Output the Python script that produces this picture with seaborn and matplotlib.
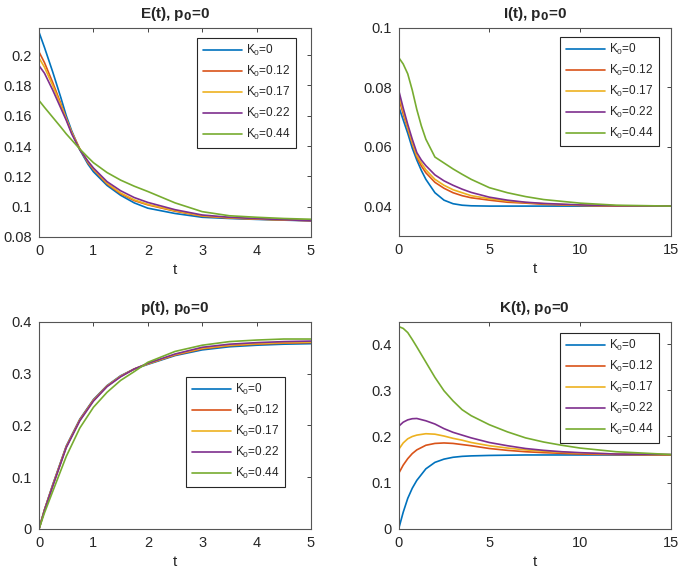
import pandas as pd
import matplotlib.pyplot as plt
import seaborn as sns

# valori
k0_labels = ["K$_0$=0", "K$_0$=0.12", "K$_0$=0.17", "K$_0$=0.22", "K$_0$=0.44"]
colors = ["#0072BD", "#D95319", "#EDB120", "#7E2F8E", "#77AC30"]

t_E = [0, 0.1, 0.25, 0.4, 0.5, 0.6, 0.75, 0.9, 1, 1.25, 1.5, 1.75, 2, 2.5, 3, 3.5, 4, 4.5, 5]
E_vals = [
    [0.215, 0.205, 0.189, 0.172, 0.160, 0.150, 0.1375, 0.128, 0.123, 0.114, 0.1075, 0.1025, 0.099, 0.0955, 0.093, 0.0922, 0.0916, 0.0911, 0.0907],
    [0.202, 0.195, 0.182, 0.168, 0.158, 0.149, 0.138, 0.129, 0.1245, 0.115, 0.1085, 0.104, 0.1012, 0.097, 0.0937, 0.0925, 0.0918, 0.0912, 0.0908],
    [0.198, 0.192, 0.180, 0.167, 0.158, 0.149, 0.138, 0.1295, 0.125, 0.1155, 0.109, 0.1045, 0.1015, 0.0973, 0.094, 0.0927, 0.0919, 0.0913, 0.0908],
    [0.193, 0.188, 0.177, 0.165, 0.157, 0.148, 0.1375, 0.130, 0.1255, 0.1165, 0.1105, 0.106, 0.1028, 0.098, 0.0945, 0.093, 0.0921, 0.0914, 0.0907],
    [0.170, 0.1655, 0.159, 0.1525, 0.148, 0.144, 0.138, 0.1325, 0.129, 0.1225, 0.1175, 0.1135, 0.110, 0.1025, 0.0967, 0.094, 0.093, 0.0922, 0.0917],
]

t_p = [0, 0.1, 0.25, 0.5, 0.75, 1, 1.25, 1.5, 1.75, 2, 2.5, 3, 3.5, 4, 4.5, 5]
p_vals = [
    [0, 0.037, 0.085, 0.160, 0.212, 0.250, 0.277, 0.296, 0.309, 0.318, 0.335, 0.346, 0.352, 0.355, 0.357, 0.358],
    [0, 0.037, 0.084, 0.159, 0.211, 0.249, 0.276, 0.295, 0.309, 0.319, 0.336, 0.348, 0.354, 0.357, 0.359, 0.360],
    [0, 0.036, 0.083, 0.158, 0.210, 0.248, 0.276, 0.295, 0.309, 0.319, 0.337, 0.349, 0.355, 0.358, 0.360, 0.361],
    [0, 0.036, 0.082, 0.157, 0.209, 0.247, 0.275, 0.294, 0.309, 0.320, 0.338, 0.351, 0.357, 0.360, 0.362, 0.363],
    [0, 0.031, 0.072, 0.140, 0.195, 0.235, 0.264, 0.287, 0.304, 0.322, 0.343, 0.355, 0.362, 0.365, 0.367, 0.367],
]

t_I = [0, 0.25, 0.5, 0.75, 1, 1.25, 1.5, 2, 2.5, 3, 3.5, 4, 5, 6, 7, 8, 10, 12, 15]
I_vals = [
    [0.0735, 0.069, 0.0645, 0.0595, 0.0555, 0.052, 0.049, 0.0445, 0.042, 0.0408, 0.0403, 0.0401, 0.040, 0.040, 0.040, 0.040, 0.040, 0.040, 0.040],
    [0.0765, 0.071, 0.066, 0.061, 0.0565, 0.0535, 0.0512, 0.048, 0.046, 0.0445, 0.0435, 0.0428, 0.042, 0.0413, 0.041, 0.0406, 0.0402, 0.040, 0.040],
    [0.0775, 0.072, 0.0665, 0.0615, 0.057, 0.0545, 0.0522, 0.049, 0.047, 0.0455, 0.0445, 0.0435, 0.0425, 0.0417, 0.0412, 0.0408, 0.0403, 0.0401, 0.040],
    [0.079, 0.073, 0.0675, 0.0625, 0.058, 0.0555, 0.0536, 0.0505, 0.0485, 0.047, 0.0457, 0.0446, 0.043, 0.042, 0.0413, 0.0409, 0.0404, 0.0401, 0.040],
    [0.090, 0.0878, 0.0845, 0.079, 0.0725, 0.067, 0.0625, 0.0565, 0.0545, 0.0525, 0.0507, 0.049, 0.0462, 0.0445, 0.0432, 0.0422, 0.041, 0.0403, 0.040],
]

t_K = [0, 0.25, 0.5, 0.75, 1, 1.5, 2, 2.5, 3, 3.5, 4, 5, 6, 7, 8, 9, 10, 12, 15]
K_vals = [
    [0, 0.036, 0.066, 0.088, 0.105, 0.130, 0.144, 0.151, 0.155, 0.157, 0.158, 0.159, 0.1595, 0.16, 0.16, 0.16, 0.16, 0.16, 0.16],
    [0.12, 0.138, 0.152, 0.163, 0.171, 0.181, 0.185, 0.186, 0.185, 0.1825, 0.180, 0.174, 0.170, 0.167, 0.165, 0.1635, 0.162, 0.1607, 0.16],
    [0.172, 0.186, 0.195, 0.200, 0.203, 0.206, 0.205, 0.201, 0.196, 0.192, 0.187, 0.180, 0.175, 0.171, 0.168, 0.166, 0.164, 0.162, 0.1605],
    [0.222, 0.231, 0.236, 0.2385, 0.239, 0.234, 0.227, 0.217, 0.209, 0.203, 0.197, 0.187, 0.180, 0.174, 0.170, 0.167, 0.165, 0.162, 0.161],
    [0.438, 0.434, 0.425, 0.410, 0.394, 0.361, 0.328, 0.299, 0.277, 0.258, 0.245, 0.2255, 0.210, 0.197, 0.188, 0.181, 0.175, 0.167, 0.161],
]

sns.set_style("white", {"xtick.direction": "in", "ytick.direction": "in"})
plt.rcParams["font.family"] = ["Liberation Sans", "DejaVu Sans"]
plt.rcParams["mathtext.default"] = "regular"


def to_df(t, vals):
    rows = []
    for lab, serie in zip(k0_labels, vals):
        for ti, v in zip(t, serie):
            rows.append({"t": ti, "val": v, "K0": lab})
    return pd.DataFrame(rows)


fig = plt.figure(figsize=(6.85, 5.78), dpi=100)

panels = [
    # titolo, t, valori, rect, xlim, ylim, yticks, xticks, legenda
    ("E(t), p$_{\\mathbf{0}}$=0", t_E, E_vals, [0.057, 0.590, 0.397, 0.362],
     (0, 5), (0.08, 0.218), [0.08, 0.1, 0.12, 0.14, 0.16, 0.18, 0.2], [0, 1, 2, 3, 4, 5], (0.945, 0.952)),
    ("I(t), p$_{\\mathbf{0}}$=0", t_I, I_vals, [0.582, 0.592, 0.397, 0.360],
     (0, 15), (0.03, 0.1), [0.04, 0.06, 0.08, 0.1], [0, 5, 10, 15], (0.957, 0.957)),
    ("p(t), p$_{\\mathbf{0}}$=0", t_p, p_vals, [0.057, 0.085, 0.397, 0.358],
     (0, 5), (0, 0.4), [0, 0.1, 0.2, 0.3, 0.4], [0, 1, 2, 3, 4, 5], (0.904, 0.734)),
    ("K(t), p$_{\\mathbf{0}}$=0", t_K, K_vals, [0.582, 0.085, 0.397, 0.358],
     (0, 15), (0, 0.448), [0, 0.1, 0.2, 0.3, 0.4], [0, 5, 10, 15], (0.957, 0.947)),
]

for title, t, vals, rect, xlim, ylim, yticks, xticks, leg_pos in panels:
    ax = fig.add_axes(rect)
    df = to_df(t, vals)
    sns.lineplot(data=df, x="t", y="val", hue="K0", palette=colors, ax=ax,
                 linewidth=1.2)
    ax.set_xlim(*xlim)
    ax.set_ylim(*ylim)
    ax.set_xticks(xticks)
    ax.set_yticks(yticks)
    ax.set_yticklabels([f"{v:g}" for v in yticks])
    ax.set_xlabel("t", fontsize=11, color="#262626")
    ax.set_ylabel("")
    ax.set_title(title, fontsize=11, fontweight="bold", pad=7)
    ax.tick_params(direction="in", top=True, right=True, labelsize=10.5,
                   length=3, width=0.6, colors="#262626", pad=5)
    for sp in ax.spines.values():
        sp.set_color("#555555")
        sp.set_linewidth(0.8)
    leg = ax.legend(loc="upper right", bbox_to_anchor=leg_pos, borderaxespad=0,
                    fontsize=8.5, frameon=True, fancybox=False, framealpha=1,
                    edgecolor="#262626", handlelength=3.3, labelspacing=0.5,
                    borderpad=0.45, handletextpad=0.4)
    leg.get_frame().set_linewidth(0.8)

plt.savefig("out.png", dpi=100)
